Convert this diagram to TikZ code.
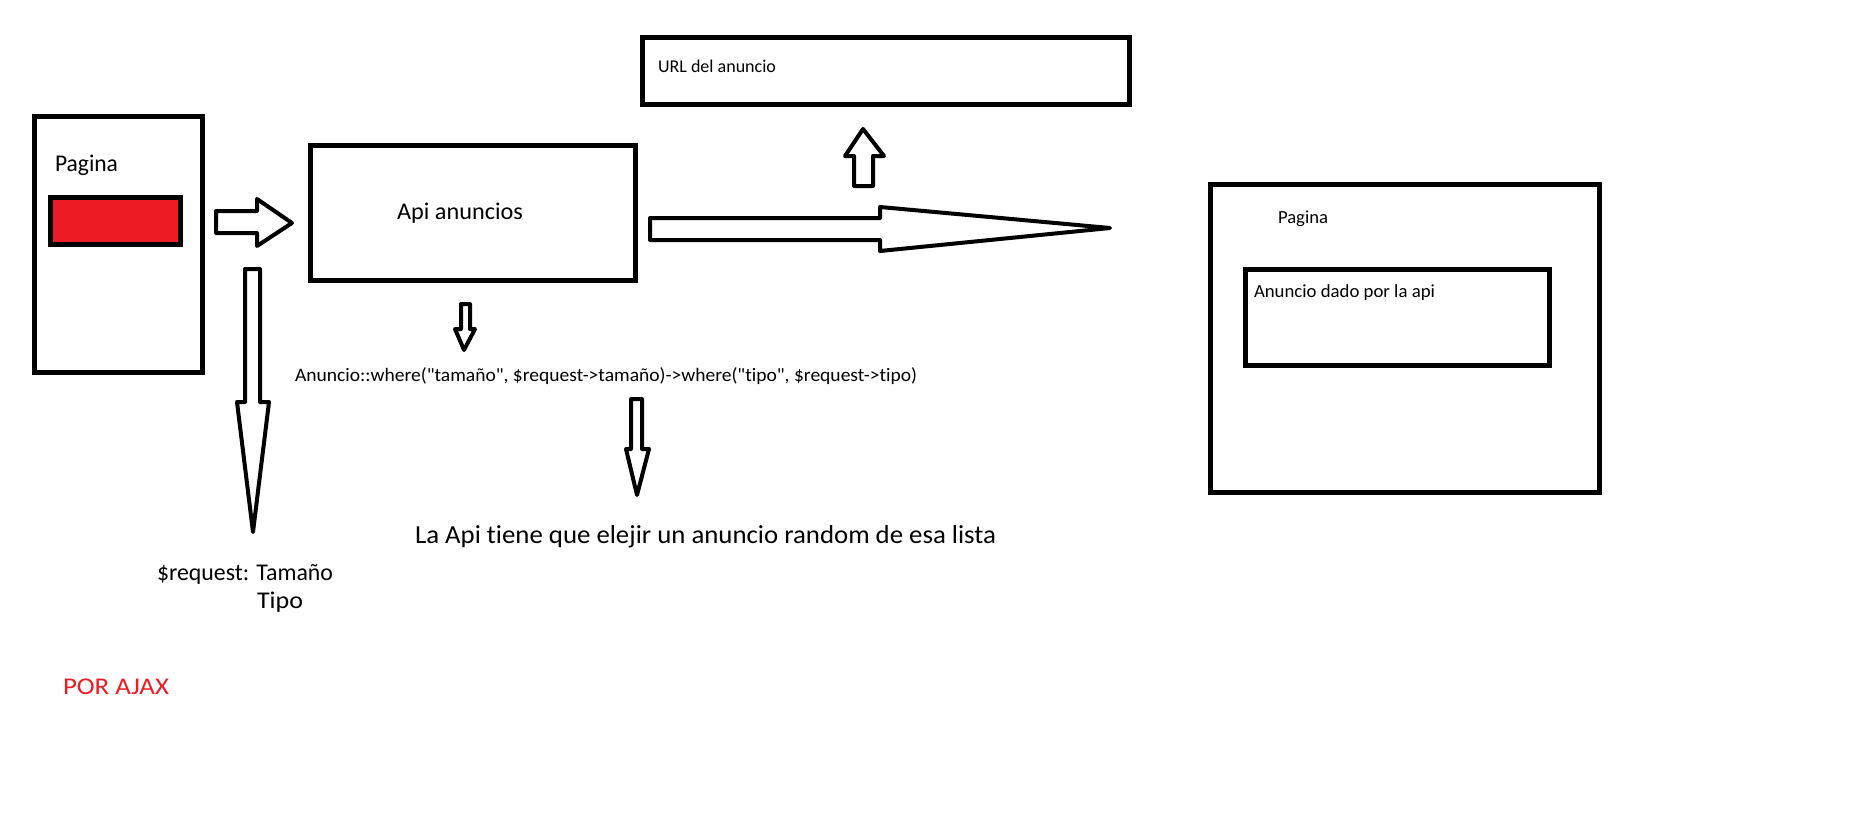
\documentclass[tikz,border=0pt]{standalone}
\usepackage{fontspec}
\setmainfont{Carlito}[Ligatures={TeX,NoCommon}]
\newfontfamily\codefont{Carlito}[Ligatures=NoCommon]
\usepackage{graphicx}
\definecolor{mspred}{HTML}{ED1C24}
\newcommand\fitw[3]{\resizebox{#1pt}{\height}{\fontsize{#2}{#2}\selectfont #3}}
\begin{document}
\begin{tikzpicture}[x=1pt,y=-1pt,
  box/.style={draw, line width=5pt, inner sep=0pt, fill=white},
  blockarrow/.style={draw, line width=4pt, line join=round, fill=white},
  lbl/.style={anchor=base west, inner sep=0pt, outer sep=0pt}]
\useasboundingbox[fill=white] (0,0) rectangle (1873,819);
% boxes
\node[box, minimum width=168pt, minimum height=256pt] (pagL) at (118.5,244.5) {};
\node[box, fill=mspred, minimum width=130pt, minimum height=47pt] (red) at (115.5,221) {};
\node[box, minimum width=325pt, minimum height=135pt] (api) at (473,213) {};
\node[box, minimum width=487pt, minimum height=67pt] (url) at (886,71) {};
\node[box, minimum width=389pt, minimum height=308pt] (pagR) at (1405,338.5) {};
\node[box, minimum width=304pt, minimum height=96pt] (ad) at (1397.5,317.5) {};
% texts
\node[lbl] (tpagL) at (55,171) {\fitw{63}{24}{Pagina}};
\node[lbl] (tapi) at (397,219) {\fitw{126}{24}{Api anuncios}};
\node[lbl] (turl) at (658,72) {\fitw{118}{18}{URL del anuncio}};
\node[lbl] (tpagR) at (1278,223) {\fitw{50}{18.5}{Pagina}};
\node[lbl] (tad) at (1254,297) {\fitw{181}{18.5}{Anuncio dado por la api}};
\node[lbl] (tcode) at (295,381) {\fitw{622}{19}{\codefont Anuncio::where("tamaño", \$request->tamaño)->where("tipo", \$request->tipo)}};
\node[lbl] (treq) at (157,580) {\fitw{176}{24}{\$request: Tamaño}};
\node[lbl] (ttipo) at (257,608) {\fitw{46}{24}{Tipo}};
\node[lbl] (tla) at (415,543) {\fitw{581}{26}{La Api tiene que elejir un anuncio random de esa lista}};
\node[lbl, text=mspred] (tajax) at (63,694) {\fitw{106}{24}{POR AJAX}};
% block arrows
\draw[blockarrow] (216,211) -- (257,211) -- (257,199) -- (292,223) -- (257,246) -- (257,233) -- (216,233) -- cycle;
\draw[blockarrow] (650,218) -- (880,218) -- (880,207) -- (1110,228) -- (880,251) -- (880,240) -- (650,240) -- cycle;
\draw[blockarrow] (863,129) -- (884,156) -- (873,156) -- (873,186) -- (854,186) -- (854,156) -- (845,156) -- cycle;
\draw[blockarrow] (461,304) -- (470,304) -- (470,329) -- (475,329) -- (464,350) -- (455,329) -- (461,329) -- cycle;
\draw[blockarrow] (245,269) -- (260,269) -- (260,402) -- (269,402) -- (253,532) -- (237,402) -- (245,402) -- cycle;
\draw[blockarrow] (631,399) -- (642,399) -- (642,449) -- (649,449) -- (637,495) -- (626,449) -- (631,449) -- cycle;
\end{tikzpicture}
\end{document}
